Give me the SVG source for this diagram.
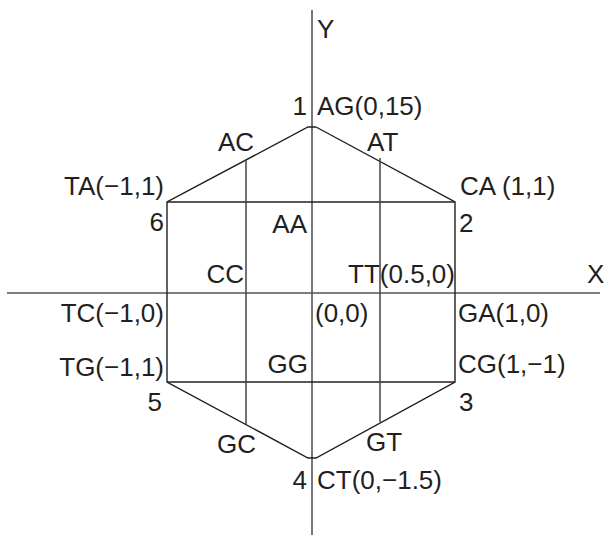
<svg xmlns="http://www.w3.org/2000/svg" width="610" height="545" viewBox="0 0 610 545">
<style>
.t{font-family:"Liberation Sans",Arial,sans-serif;font-size:26px;fill:#231f20}
.e{text-anchor:end}
.ax{stroke:#555;stroke-width:1.6;fill:none}
.ln{stroke:#231f20;stroke-width:1.4;fill:none}
.gl{stroke:#444;stroke-width:1.5;fill:none}
</style>
<rect width="610" height="545" fill="#fff"/>
<g id="connectors">
<line class="ax" x1="312" y1="10" x2="312" y2="535"/>
<line class="ax" x1="7" y1="293" x2="600" y2="293"/>
<polyline class="ln" points="316,127 455,202 455,382 316,458 308,458 167,382 167,202 308,127 316,127"/>
<line class="ln" x1="167" y1="202" x2="455" y2="202"/>
<line class="ln" x1="167" y1="382" x2="455" y2="382"/>
<line class="gl" x1="246" y1="160" x2="246" y2="424"/>
<line class="gl" x1="380" y1="158" x2="380" y2="422"/>
</g>
<g id="axis-y"><text class="t" x="317" y="38">Y</text></g>
<g id="axis-x"><text class="t" x="587" y="283">X</text></g>
<g id="v1"><text class="t e" x="307" y="115">1</text><text class="t" x="317" y="115">AG(0,15)</text></g>
<g id="AC"><text class="t" x="218" y="151">AC</text></g>
<g id="AT"><text class="t" x="367" y="151">AT</text></g>
<g id="v6"><text class="t e" x="164" y="195">TA(−1,1)</text><text class="t e" x="164" y="231">6</text></g>
<g id="v2"><text class="t" x="460" y="195">CA (1,1)</text><text class="t" x="459" y="232">2</text></g>
<g id="AA"><text class="t e" x="307" y="233">AA</text></g>
<g id="CC"><text class="t e" x="244" y="283">CC</text></g>
<g id="TT"><text class="t e" x="455" y="283">TT(0.5,0)</text></g>
<g id="origin"><text class="t" x="315" y="322">(0,0)</text></g>
<g id="TC"><text class="t e" x="164" y="322">TC(−1,0)</text></g>
<g id="GA"><text class="t" x="458" y="322">GA(1,0)</text></g>
<g id="v5"><text class="t e" x="164" y="376">TG(−1,1)</text><text class="t e" x="162" y="411">5</text></g>
<g id="v3"><text class="t" x="458" y="373">CG(1,−1)</text><text class="t" x="459" y="411">3</text></g>
<g id="GG"><text class="t e" x="308" y="373">GG</text></g>
<g id="GC"><text class="t" x="217" y="453">GC</text></g>
<g id="GT"><text class="t" x="366" y="451">GT</text></g>
<g id="v4"><text class="t e" x="307" y="489">4</text><text class="t" x="317" y="489">CT(0,−1.5)</text></g>
</svg>
